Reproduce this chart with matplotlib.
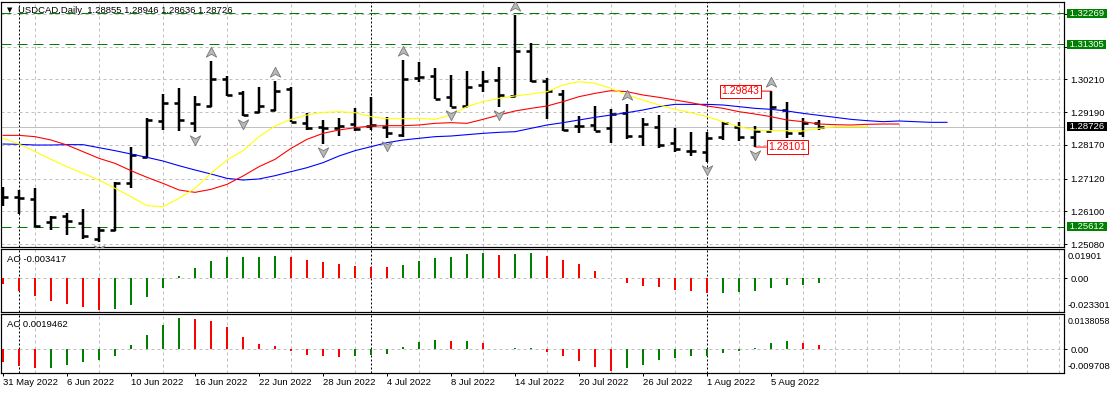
import matplotlib
matplotlib.use('Agg')
import matplotlib.pyplot as plt
import matplotlib.transforms as mtransforms
from matplotlib.path import Path
import numpy as np
import pandas as pd

plt.rcParams['font.family'] = ['Liberation Sans', 'DejaVu Sans']
plt.rcParams['lines.scale_dashes'] = False

# ---------------- data ----------------
symbol_title = 'USDCAD,Daily  1.28855 1.28946 1.28636 1.28726'
dates = pd.bdate_range('2022-05-31', '2022-08-10')

opens = [1.26560, 1.26535, 1.26493, 1.25777, 1.25953, 1.25725, 1.25237, 1.25518, 1.26991, 1.27801,
         1.28922, 1.29462, 1.28860, 1.29379, 1.30219, 1.29774, 1.29202, 1.29255, 1.29897, 1.28860,
         1.28714, 1.28704, 1.28818, 1.28756, 1.28735, 1.28476, 1.30261, 1.30323, 1.29649, 1.29379,
         1.30032, 1.30188, 1.29701, 1.31101, 1.30157, 1.29743, 1.28756, 1.28787, 1.28683, 1.29171,
         1.28455, 1.28714, 1.28216, 1.27988, 1.27957, 1.28403, 1.28735, 1.28424, 1.28610, 1.29255,
         1.28548, 1.28855]
highs = [1.26846, 1.26763, 1.26836, 1.25953, 1.26036, 1.26161, 1.25621, 1.27022, 1.28112, 1.28995,
         1.29743, 1.29929, 1.29691, 1.30780, 1.30313, 1.29846, 1.29960, 1.30157, 1.29981, 1.29150,
         1.28943, 1.28995, 1.29307, 1.29649, 1.29026, 1.30811, 1.30759, 1.30551, 1.30344, 1.30479,
         1.30479, 1.30603, 1.32220, 1.31330, 1.30240, 1.29877, 1.29067, 1.29379, 1.29276, 1.29442,
         1.28995, 1.29098, 1.28683, 1.28559, 1.28559, 1.28870, 1.28891, 1.28756, 1.29843, 1.29514,
         1.28995, 1.28946]
lows = [1.26275, 1.26016, 1.25621, 1.25518, 1.25362, 1.25227, 1.25154, 1.25486, 1.26815, 1.27749,
        1.28631, 1.28610, 1.28579, 1.29359, 1.29701, 1.29067, 1.29150, 1.29233, 1.28870, 1.28631,
        1.28195, 1.28444, 1.28600, 1.28631, 1.28372, 1.28424, 1.30136, 1.29597, 1.29338, 1.29359,
        1.29825, 1.29338, 1.29670, 1.30136, 1.28974, 1.28610, 1.28527, 1.28600, 1.28216, 1.28341,
        1.28143, 1.28060, 1.27936, 1.27832, 1.27645, 1.28320, 1.28299, 1.28101, 1.28600, 1.28372,
        1.28403, 1.28636]
closes = [1.26535, 1.26504, 1.25630, 1.25933, 1.25808, 1.25331, 1.25518, 1.26991, 1.27853, 1.28943,
          1.29462, 1.28943, 1.29442, 1.30219, 1.29722, 1.29098, 1.29379, 1.29846, 1.28891, 1.28704,
          1.28694, 1.28756, 1.28662, 1.28777, 1.28548, 1.30219, 1.30282, 1.29610, 1.29359, 1.29960,
          1.30167, 1.29722, 1.31101, 1.30167, 1.29846, 1.28631, 1.28766, 1.28610, 1.29129, 1.28455,
          1.28818, 1.28164, 1.28040, 1.27967, 1.28372, 1.28839, 1.28403, 1.28600, 1.29338, 1.28527,
          1.28839, 1.28726]

# Alligator lines (shifted forward)
lips_yellow = [1.28372, 1.28195, 1.27957, 1.27718, 1.27489, 1.27282, 1.27074, 1.26815, 1.26555, 1.26275,
               1.26244, 1.26504, 1.26815, 1.27282, 1.27698, 1.27988, 1.28424, 1.28756, 1.28963, 1.29098,
               1.29181, 1.29202, 1.29171, 1.29046, 1.28984, 1.28984, 1.28995, 1.28963, 1.29098, 1.29359,
               1.29514, 1.29617, 1.29690, 1.29752, 1.29825, 1.30032, 1.30136, 1.30084, 1.29929, 1.29721,
               1.29565, 1.29410, 1.29275, 1.29171, 1.29046, 1.28891, 1.28735, 1.28631, 1.28610, 1.28610,
               1.28600, 1.28683, 1.28735, 1.28735, 1.28735]
teeth_red = [1.28465, 1.28465, 1.28424, 1.28320, 1.28164, 1.27957, 1.27749, 1.27593, 1.27365, 1.27157,
             1.26970, 1.26763, 1.26690, 1.26784, 1.26939, 1.27199, 1.27489, 1.27718, 1.28060, 1.28341,
             1.28527, 1.28631, 1.28704, 1.28756, 1.28766, 1.28766, 1.28787, 1.28839, 1.28860, 1.28839,
             1.28963, 1.29098, 1.29223, 1.29306, 1.29379, 1.29514, 1.29669, 1.29773, 1.29856, 1.29825,
             1.29721, 1.29649, 1.29565, 1.29482, 1.29379, 1.29306, 1.29202, 1.29129, 1.29046, 1.28943,
             1.28891, 1.28818, 1.28797, 1.28787, 1.28808, 1.28818, 1.28818]
jaw_blue = [1.28195, 1.28185, 1.28164, 1.28164, 1.28175, 1.28175, 1.28081, 1.27988, 1.27884, 1.27780,
            1.27666, 1.27520, 1.27386, 1.27261, 1.27126, 1.27074, 1.27106, 1.27209, 1.27334, 1.27458,
            1.27614, 1.27822, 1.27988, 1.28112, 1.28237, 1.28320, 1.28372, 1.28424, 1.28444, 1.28486,
            1.28527, 1.28559, 1.28579, 1.28683, 1.28787, 1.28860, 1.28943, 1.29026, 1.29098, 1.29171,
            1.29254, 1.29358, 1.29430, 1.29430, 1.29430, 1.29410, 1.29358, 1.29306, 1.29275, 1.29223,
            1.29150, 1.29088, 1.29026, 1.28963, 1.28922, 1.28891, 1.28912, 1.28891, 1.28870, 1.28870]

ao_values = [-0.0044, -0.0094, -0.0131, -0.0168, -0.0190, -0.0212, -0.023301, -0.0229, -0.0198, -0.0138,
             -0.0072, 0.0017, 0.0076, 0.0128, 0.0158, 0.0159, 0.0161, 0.0165, 0.0158, 0.0135,
             0.0121, 0.0106, 0.0091, 0.0084, 0.0081, 0.0098, 0.0128, 0.0150, 0.0158, 0.0180,
             0.0187, 0.0172, 0.0180, 0.01901, 0.0165, 0.0135, 0.0106, 0.0054, 0.0002, -0.0032,
             -0.0057, -0.0064, -0.0087, -0.0094, -0.0109, -0.0107, -0.0101, -0.0091, -0.0072, -0.0052,
             -0.0049, -0.003417]
ac_values = [-0.0054, -0.0072, -0.0082, -0.0081, -0.0067, -0.0054, -0.0045, -0.0028, 0.0021, 0.0065,
             0.0107, 0.0138058, 0.0135, 0.0125, 0.0100, 0.0056, 0.0025, 0.0016, -0.0009, -0.0025,
             -0.0029, -0.0034, -0.0029, -0.0025, -0.0021, 0.0010, 0.0032, 0.0041, 0.0036, 0.0037,
             0.0028, 0.0002, 0.0005, 0.0006, -0.0012, -0.0028, -0.0051, -0.0078, -0.009708, -0.0082,
             -0.0069, -0.0047, -0.0038, -0.0029, -0.0028, -0.0016, -0.0007, 0.0006, 0.0028, 0.0037,
             0.0028, 0.0019462]

up_fractal_bars = [13, 17, 25, 32, 39, 48]
down_fractal_bars = [6, 12, 15, 20, 24, 28, 31, 44, 47]

green_levels = [1.32269, 1.31305, 1.25612]
bid_price = 1.28726
price_ticks = [1.32250, 1.31230, 1.30210, 1.29190, 1.28170, 1.27120, 1.26100, 1.25080]
hidden_ticks = [1.32250, 1.31230]   # covered by the green level boxes
high_label_bar, high_label_value = 48, 1.29843
low_label_bar, low_label_value = 47, 1.28101
ao_axis_labels = ['0.01901', '0.00', '-0.023301']
ac_axis_labels = ['0.0138058', '0.00', '-0.009708']
ao_caption = 'AO -0.003417'
ac_caption = 'AC 0.0019462'

# ---------------- layout ----------------
W, H = 1110, 394
DPI = 100
PX = 72.0 / DPI  # points per pixel
FS = 6.8

fig = plt.figure(figsize=(W / DPI, H / DPI), dpi=DPI)
fig.patch.set_facecolor('white')


def rect(l, t, r, b):
    return [l / W, 1 - b / H, (r - l) / W, (b - t) / H]


ax = fig.add_axes(rect(1, 2, 1064, 247.3))
ax_ao = fig.add_axes(rect(1, 249.3, 1064, 312), sharex=ax)
ax_ac = fig.add_axes(rect(1, 314, 1064, 373), sharex=ax)

n = len(closes)
x = np.arange(n)
GRID = '#c0c0c0'
grid_ls = (0, (3 * PX, 3 * PX))
sep_ls = (0, (2 * PX, 2 * PX))

for a in (ax, ax_ao, ax_ac):
    a.set_facecolor('white')
    for s in a.spines.values():
        s.set_linewidth(1.2 * PX)
        s.set_color('black')
    a.set_xlim(-0.125, 66.3125)
    a.set_xticks(np.arange(0, 67, 2), minor=True)
    a.grid(True, which='minor', axis='x', color=GRID, lw=PX, linestyle=grid_ls)
    a.grid(False, which='major', axis='x')
    a.tick_params(which='minor', length=0)
    a.yaxis.tick_right()
    a.tick_params(axis='y', which='major', length=3 * PX, width=PX, pad=2.6,
                  labelsize=FS, colors='black')
    a.set_axisbelow(True)
    # month separators
    for i, d in enumerate(dates):
        if i > 0 and d.month != dates[i - 1].month:
            a.axvline(i, color='black', lw=PX, linestyle=sep_ls, zorder=1.5)

# ---------------- main price panel ----------------
ax.set_ylim(1.24979, 1.32617)
ax.set_yticks(price_ticks)
ax.set_yticklabels(['' if v in hidden_ticks else f'{v:.5f}' for v in price_ticks])
ax.grid(True, which='major', axis='y', color=GRID, lw=PX, linestyle=grid_ls)
ax.tick_params(axis='x', which='both', bottom=False, labelbottom=False)

for lv in green_levels:
    ax.axhline(lv, color='#008000', lw=PX, linestyle=(0, (10 * PX, 6 * PX)), zorder=1.6)
ax.axhline(bid_price, color='#c0c0c0', lw=PX, zorder=1.7)

# OHLC bars
ax.vlines(x, lows, highs, color='black', lw=2.5 * PX, zorder=3)
ax.hlines(opens, x - 0.3, x, color='black', lw=2.6 * PX, zorder=3)
ax.hlines(closes, x, x + 0.3, color='black', lw=2.6 * PX, zorder=3)

# Alligator
ax.plot(np.arange(len(jaw_blue)), jaw_blue, color='#0000ff', lw=1.1 * PX, zorder=4)
ax.plot(np.arange(len(teeth_red)), teeth_red, color='#ff0000', lw=1.1 * PX, zorder=4)
ax.plot(np.arange(len(lips_yellow)), lips_yellow, color='#ffff00', lw=1.1 * PX, zorder=4)

# Fractals
up_path = Path([(0, 1), (1, -0.9), (0, -0.35), (-1, -0.9), (0, 1)],
               [Path.MOVETO, Path.LINETO, Path.LINETO, Path.LINETO, Path.CLOSEPOLY])
down_path = Path([(0, -1), (1, 0.9), (0, 0.35), (-1, 0.9), (0, -1)],
                 [Path.MOVETO, Path.LINETO, Path.LINETO, Path.LINETO, Path.CLOSEPOLY])
t_up = mtransforms.offset_copy(ax.transData, fig=fig, x=0, y=9, units='dots')
t_dn = mtransforms.offset_copy(ax.transData, fig=fig, x=0, y=-8, units='dots')
ax.plot(up_fractal_bars, [highs[i] for i in up_fractal_bars], linestyle='none',
        marker=up_path, markersize=7.5, markerfacecolor='#b8b8b8', markeredgecolor='#787878',
        markeredgewidth=0.6, transform=t_up, zorder=5)
ax.plot(down_fractal_bars, [lows[i] for i in down_fractal_bars], linestyle='none',
        marker=down_path, markersize=7.5, markerfacecolor='#b8b8b8', markeredgecolor='#787878',
        markeredgewidth=0.6, transform=t_dn, zorder=5)

# high / low labels
ax.annotate(f'{high_label_value:.5f}', xy=(high_label_bar, high_label_value),
            xytext=(-11.6 * PX, 0), textcoords='offset points', ha='right', va='center',
            color='#ff0000', fontsize=7.5,
            bbox=dict(boxstyle='square,pad=0.15', fc='white', ec='#ff0000', lw=PX),
            arrowprops=dict(arrowstyle='-', color='#ff0000', lw=PX, shrinkA=0, shrinkB=0),
            zorder=6)
ax.annotate(f'{low_label_value:.5f}', xy=(low_label_bar, low_label_value),
            xytext=(13.3 * PX, 0), textcoords='offset points', ha='left', va='center',
            color='#ff0000', fontsize=7.5,
            bbox=dict(boxstyle='square,pad=0.15', fc='white', ec='#ff0000', lw=PX),
            arrowprops=dict(arrowstyle='-', color='#ff0000', lw=PX, shrinkA=0, shrinkB=0),
            zorder=6)

# right-axis boxed labels
for lv in green_levels:
    ax.annotate(f' {lv:.5f} ', xy=(1, lv), xycoords=('axes fraction', 'data'),
                xytext=(3 * PX, 0), textcoords='offset points', ha='left', va='center',
                color='white', fontsize=FS, annotation_clip=False,
                bbox=dict(boxstyle='square,pad=0.0', fc='#008000', ec='#008000', lw=0))
ax.annotate(f' {bid_price:.5f} ', xy=(1, bid_price), xycoords=('axes fraction', 'data'),
            xytext=(3 * PX, 0), textcoords='offset points', ha='left', va='center',
            color='white', fontsize=FS, annotation_clip=False,
            bbox=dict(boxstyle='square,pad=0.0', fc='black', ec='black', lw=0))

# title
fig.text(7 / W, 1 - 10.5 / H, '\u25bc', fontsize=5, va='center', ha='left',
         family=['DejaVu Sans'])
fig.text(18 / W, 1 - 10.7 / H, symbol_title, fontsize=FS, va='center', ha='left')

# ---------------- AO / AC panels ----------------
def osc_panel(a, vals, ylim, labels, caption, cap_y, fs_top):
    cols = ['#ff0000'] + ['#008000' if vals[i] > vals[i - 1] else '#ff0000'
                          for i in range(1, len(vals))]
    a.bar(np.arange(len(vals)), vals, width=0.14, color=cols, linewidth=0, zorder=3)
    a.set_ylim(*ylim)
    a.axhline(0, color=GRID, lw=PX, linestyle=grid_ls, zorder=1)
    a.set_yticks([0])
    a.set_yticklabels([labels[1]])
    a.annotate(labels[0], xy=(1, 1), xycoords='axes fraction', xytext=(4.0 * PX, -7.4 * PX),
               textcoords='offset points', ha='left', va='center', fontsize=fs_top,
               annotation_clip=False)
    a.annotate(labels[2], xy=(1, 0), xycoords='axes fraction', xytext=(3.6 * PX, 6.6 * PX),
               textcoords='offset points', ha='left', va='center', fontsize=FS,
               annotation_clip=False)
    fig.text(7 / W, 1 - cap_y / H, caption, fontsize=FS, va='center', ha='left')


osc_panel(ax_ao, ao_values, (-0.02494, 0.02146), ao_axis_labels, ao_caption, 259.3, FS)
osc_panel(ax_ac, ac_values, (-0.01043, 0.01553), ac_axis_labels, ac_caption, 324.3, 6.4)

ax_ao.tick_params(axis='x', which='both', bottom=False, labelbottom=False)

label_idx = list(range(0, n, 4))
ax_ac.set_xticks(label_idx)
ax_ac.set_xticklabels([f'{dates[i].day} {dates[i].strftime("%b %Y")}' for i in label_idx])
ax_ac.tick_params(axis='x', which='major', length=3 * PX, width=PX, pad=1.5, labelsize=FS)
for lab in ax_ac.get_xticklabels():
    lab.set_ha('left')

fig.savefig('out.png', dpi=DPI, facecolor='white')
